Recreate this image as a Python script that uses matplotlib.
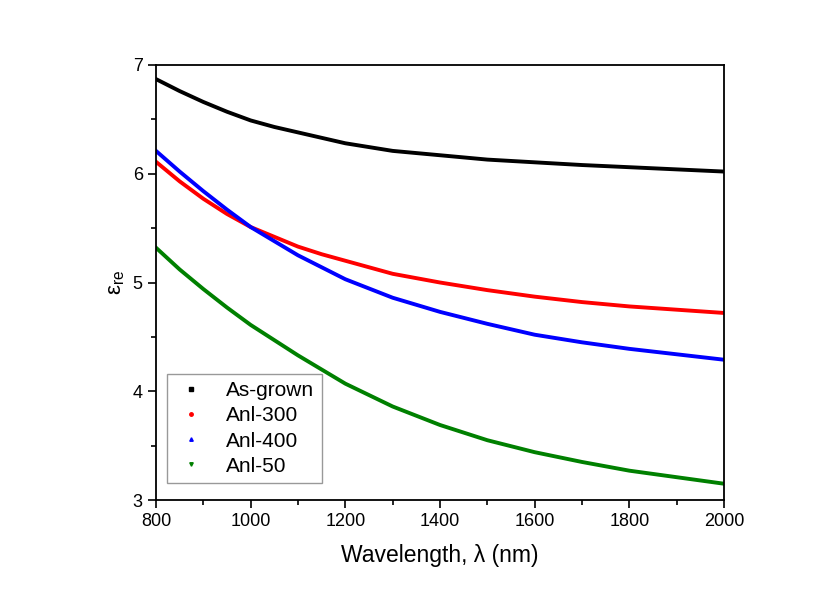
import matplotlib.pyplot as plt
from matplotlib.lines import Line2D

plt.rcParams['font.family'] = ['Liberation Sans', 'DejaVu Sans']

wavelength = [800, 850, 900, 950, 1000, 1050, 1100, 1150, 1200, 1300, 1400, 1500, 1600, 1700, 1800, 1900, 2000]
as_grown = [6.87, 6.76, 6.66, 6.57, 6.49, 6.43, 6.38, 6.33, 6.28, 6.21, 6.17, 6.13, 6.105, 6.08, 6.06, 6.04, 6.02]
anl_300 = [6.11, 5.93, 5.77, 5.63, 5.51, 5.42, 5.33, 5.26, 5.20, 5.08, 5.00, 4.93, 4.87, 4.82, 4.78, 4.75, 4.72]
anl_400 = [6.21, 6.02, 5.84, 5.67, 5.51, 5.38, 5.25, 5.14, 5.03, 4.86, 4.73, 4.62, 4.52, 4.45, 4.39, 4.34, 4.29]
anl_50 = [5.32, 5.12, 4.94, 4.77, 4.61, 4.47, 4.33, 4.20, 4.07, 3.86, 3.69, 3.55, 3.44, 3.35, 3.27, 3.21, 3.15]

labels = ['As-grown', 'Anl-300', 'Anl-400', 'Anl-50']
colors = ['black', 'red', 'blue', 'green']
markers = ['s', 'o', '^', 'v']

fig = plt.figure(figsize=(8.27, 5.96), dpi=100)
ax = fig.add_axes([0.1886, 0.161, 0.6869, 0.730])

for y, c in zip([as_grown, anl_300, anl_400, anl_50], colors):
    ax.plot(wavelength, y, '-', color=c, linewidth=2.8, solid_joinstyle='round')

ax.set_xlim(800, 2000)
ax.set_ylim(3, 7)
ax.set_xticks(range(800, 2001, 200))
ax.set_xticks(range(900, 2000, 200), minor=True)
ax.set_yticks([3, 4, 5, 6, 7])
ax.set_yticks([3.5, 4.5, 5.5, 6.5], minor=True)
ax.tick_params(which='major', direction='out', length=6, width=1.2, labelsize=13, top=False, right=False)
ax.tick_params(which='minor', direction='out', length=3.5, width=1.2, top=False, right=False)
for s in ax.spines.values():
    s.set_linewidth(1.3)

ax.set_xlabel('Wavelength, λ (nm)', fontsize=16.5, labelpad=10)
ax.set_ylabel(r'$\mathregular{\varepsilon_{re}}$', fontsize=16)

handles = [Line2D([], [], linestyle='none', marker=m, color=c, markersize=2.5)
           for m, c in zip(markers, colors)]
leg = ax.legend(handles, labels, loc='lower left', bbox_to_anchor=(0.019, 0.039),
                fontsize=15, frameon=True, fancybox=False, handletextpad=0.9,
                borderpad=0.35, labelspacing=0.3, handlelength=1.6,
                borderaxespad=0)
leg.get_frame().set_edgecolor('gray')
leg.get_frame().set_linewidth(1)

fig.savefig('out.png', dpi=100)
